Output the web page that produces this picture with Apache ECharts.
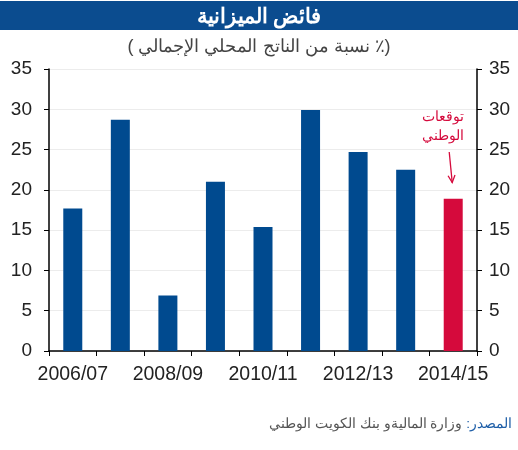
<!DOCTYPE html>
<html>
<head>
<meta charset="utf-8">
<script src="https://cdn.jsdelivr.net/npm/echarts@6/dist/echarts.min.js"></script>
<style>
  html, body { margin: 0; padding: 0; background: #fff; }
  #chart { width: 518px; height: 450px; }
</style>
</head>
<body>
<div id="chart"></div>
<script>
// data
var years = ["2006/07", "2007/08", "2008/09", "2009/10", "2010/11", "2011/12", "2012/13", "2013/14", "2014/15"];
var surplus = [17.7, 28.7, 6.9, 21.0, 15.4, 29.9, 24.7, 22.5, 18.9];
var forecastIndex = 8; // last bar is NBK forecast
var yTicks = { min: 0, max: 35, step: 5 };

var BLUE = "#004a8f";
var RED = "#d50a3c";
var FONT = "Liberation Sans, Arial, sans-serif";

var chart = echarts.init(document.getElementById("chart"));

var barData = surplus.map(function (v, i) {
    return i === forecastIndex ? { value: v, itemStyle: { color: RED } } : v;
});

function yAxis(pos) {
    return {
        type: "value",
        position: pos,
        min: yTicks.min,
        max: yTicks.max,
        interval: yTicks.step,
        axisLine: { show: true, lineStyle: { color: "#000", width: 1.5 } },
        axisTick: { show: true, inside: false, length: 5, lineStyle: { color: "#000" } },
        axisLabel: { color: "#222", fontSize: 19, fontFamily: FONT, margin: pos === "left" ? 17 : 12 },
        splitLine: { show: pos === "left", lineStyle: { color: "#ececec", width: 1 } }
    };
}

var staticGraphics = [{
    type: "rect",
    z: -1,
    shape: { x: 0, y: 1, width: 518, height: 29 },
    style: { fill: "#0b4c8f" }
}, {
    type: "text",
    right: 6,
    top: 417,
    style: {
        // rich tokens are laid out left to right, so the label goes last
        text: "{g|وزارة الماليةو بنك الكويت الوطني}{s| }{b|:المصدر}",
        rich: {
            g: { fill: "#555", fontSize: 13.5, fontFamily: FONT },
            s: { fill: "#555", fontSize: 13.5, fontFamily: FONT },
            b: { fill: "#1f5fa8", fontSize: 13.5, fontFamily: FONT }
        }
    }
}];

var option = {
    animation: false,
    title: [{
        text: "فائض الميزانية",
        left: "center",
        top: 2,
        textStyle: { color: "#fff", fontSize: 21, fontWeight: "bold", fontFamily: FONT }
    }, {
        text: "( نسبة من الناتج المحلي الإجمالي ٪)",
        left: "center",
        top: 33,
        textStyle: { color: "#444", fontSize: 18, fontWeight: "normal", fontFamily: FONT }
    }],
    graphic: staticGraphics,
    grid: { left: 49, right: 41, top: 69, bottom: 99 },
    xAxis: {
        type: "category",
        data: years,
        boundaryGap: true,
        axisLine: { lineStyle: { color: "#000", width: 1.5 } },
        axisTick: { show: true, interval: 0, length: 5, lineStyle: { color: "#000" } },
        axisLabel: { interval: 1, color: "#222", fontSize: 19.5, fontFamily: FONT, margin: 14 }
    },
    yAxis: [yAxis("left"), yAxis("right")],
    series: [{
        type: "bar",
        data: barData,
        barWidth: 19,
        itemStyle: { color: BLUE }
    }]
};

chart.setOption(option);

// forecast note with arrow, placed with the chart's own scale
var pStart = chart.convertToPixel({ xAxisIndex: 0, yAxisIndex: 0 }, [forecastIndex, 24.7]);
var pEnd = chart.convertToPixel({ xAxisIndex: 0, yAxisIndex: 0 }, [forecastIndex, 20.9]);
var x0 = pStart[0] - 4, y0 = pStart[1];
var x1 = pEnd[0] - 1, y1 = pEnd[1];
var ang = Math.atan2(y1 - y0, x1 - x0);
var h = 8;
chart.setOption({
    graphic: staticGraphics.concat([{
        type: "text",
        x: pStart[0] - 10,
        y: pStart[1] - 44,
        style: {
            text: "توقعات\nالوطني",
            fill: RED,
            font: "14px " + FONT,
            align: "center",
            lineHeight: 19
        }
    }, {
        type: "line",
        shape: { x1: x0, y1: y0, x2: x1, y2: y1 },
        style: { stroke: RED, lineWidth: 1.3 }
    }, {
        type: "polyline",
        shape: {
            points: [
                [x1 - h * Math.cos(ang - 0.45), y1 - h * Math.sin(ang - 0.45)],
                [x1, y1],
                [x1 - h * Math.cos(ang + 0.45), y1 - h * Math.sin(ang + 0.45)]
            ]
        },
        style: { stroke: RED, lineWidth: 1.3, fill: null }
    }])
});
</script>
</body>
</html>
